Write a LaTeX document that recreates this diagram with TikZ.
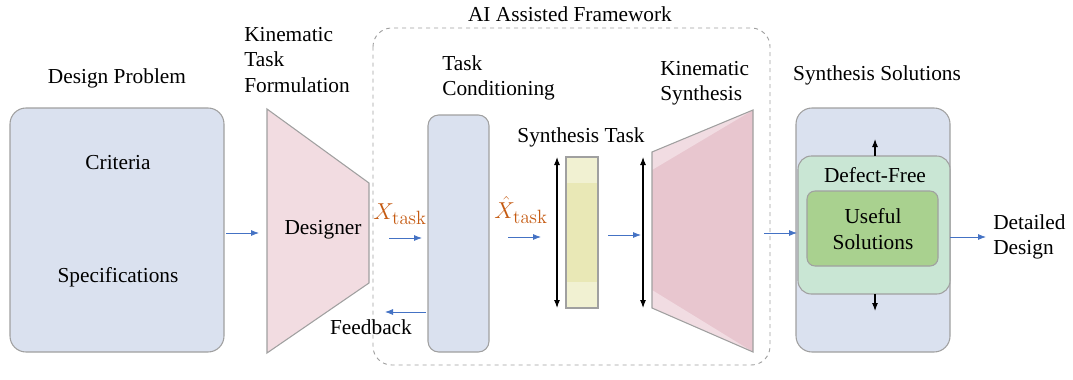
\documentclass[tikz,border=0pt]{standalone}
\usepackage[no-math]{fontspec}
\setmainfont{Liberation Serif}
\usetikzlibrary{arrows.meta,positioning}

\definecolor{boxblue}{HTML}{DAE1EF}
\definecolor{boxpink}{HTML}{F2DCE1}
\definecolor{synpink}{HTML}{E8C6CF}
\definecolor{synlight}{HTML}{F1DCE2}
\definecolor{barlight}{HTML}{F1F1D2}
\definecolor{bardark}{HTML}{E9E8B6}
\definecolor{dfgreen}{HTML}{C9E6D4}
\definecolor{usegreen}{HTML}{A9D18F}
\definecolor{flowblue}{HTML}{4472C4}
\definecolor{taskorange}{HTML}{C55A11}
\definecolor{edgegray}{HTML}{A0A0A0}

\tikzset{
  panel/.style={draw=edgegray, line width=0.8pt, rounded corners=12pt, fill=boxblue},
  flow/.style={-{Latex[length=6pt,width=4.5pt]}, flowblue, line width=0.6pt},
  span/.style={{Latex[length=6pt,width=4.5pt]}-{Latex[length=6pt,width=4.5pt]}, line width=0.8pt},
  lbl/.style={font=\fontsize{16}{19}\selectfont, inner sep=0pt},
  lbll/.style={lbl, align=left, anchor=west},
  mlbl/.style={font=\fontsize{19}{22}\selectfont, inner sep=0pt, text=taskorange},
}

\begin{document}
\begin{tikzpicture}[x=0.75pt,y=-0.75pt]
\useasboundingbox (0,0) rectangle (1073,379);

% framework frame
\draw[edgegray, dashed, line width=0.7pt, rounded corners=14pt] (373,28) rectangle (770,365);
\node[lbl] (frame) at (570,14) {AI Assisted Framework};

% design problem
\draw[panel] (10,108) rectangle (224,352);
\node[lbl] (problem) at (117,78) {Design Problem};
\node[lbl] (crit) at (118,163) {Criteria};
\node[lbl] (spec) at (118,277) {Specifications};

% designer
\draw[draw=edgegray, line width=0.8pt, fill=boxpink] (267,109) -- (369,183) -- (369,283) -- (267,353) -- cycle;
\node[lbl] (designer) at (323,230) {Designer};
\node[lbll] (formul) at (244,60) {Kinematic\\Task\\Formulation};

% task conditioning
\draw[panel, rounded corners=8pt] (428,115) rectangle (489,352);
\node[lbll] (cond) at (442,78) {Task\\Conditioning};

% synthesis task bar
\fill[barlight] (566,157) rectangle (598,308);
\fill[bardark] (566,183) rectangle (598,282);
\draw[edgegray, line width=0.8pt] (566,157) rectangle (598,308);
\node[lbl] (tasklbl) at (581,137) {Synthesis Task};

% kinematic synthesis
\fill[synpink] (652,152) -- (753,110) -- (753,352) -- (652,308) -- cycle;
\fill[synlight] (652,152) -- (753,110) -- (652,170) -- cycle;
\fill[synlight] (652,308) -- (753,352) -- (652,290) -- cycle;
\draw[edgegray, line width=0.8pt] (652,152) -- (753,110) -- (753,352) -- (652,308) -- cycle;
\node[lbll] (synth) at (660,83) {Kinematic\\Synthesis};

% synthesis solutions
\draw[panel] (796,108) rectangle (950,352);
\draw[draw=edgegray, line width=0.8pt, rounded corners=10pt, fill=dfgreen] (798,156) rectangle (950,294);
\draw[draw=edgegray, line width=0.8pt, rounded corners=6pt, fill=usegreen] (807,191) rectangle (938,266);
\node[lbl] (sols) at (877,75) {Synthesis Solutions};
\node[lbl] (defect) at (875,175) {Defect-Free};
\node[lbl, align=center] (useful) at (873,229) {Useful\\Solutions};
\node[lbll] (detail) at (993,237) {Detailed\\Design};

% labels on the flow
\node[mlbl] (xtask) at (400,214) {$X_{\mathrm{task}}$};
\node[mlbl] (xhat) at (521,210) {$\hat{X}_{\mathrm{task}}$};
\node[lbl] (feedback) at (371,327) {Feedback};

% connectors
\coordinate (a1) at (226,233); \coordinate (a2) at (259,233);
\coordinate (b1) at (389,238); \coordinate (b2) at (422,238);
\coordinate (f1) at (426,312); \coordinate (f2) at (385,312);
\coordinate (c1) at (508,237); \coordinate (c2) at (541,237);
\coordinate (d1) at (608,235); \coordinate (d2) at (641,235);
\coordinate (e1) at (764,233); \coordinate (e2) at (797,233);
\coordinate (g1) at (950,237); \coordinate (g2) at (986,237);
\coordinate (u1) at (875,156); \coordinate (u2) at (875,139);
\coordinate (v1) at (875,294); \coordinate (v2) at (875,311);
\coordinate (s1) at (557,157); \coordinate (s2) at (557,308);
\coordinate (t1) at (643,157); \coordinate (t2) at (643,308);

\draw[flow] (a1) -- (a2);
\draw[flow] (b1) -- (b2);
\draw[flow] (f1) -- (f2);
\draw[flow] (c1) -- (c2);
\draw[flow] (d1) -- (d2);
\draw[flow] (e1) -- (e2);
\draw[flow] (g1) -- (g2);
\draw[-{Latex[length=6pt,width=4.5pt]}, line width=0.8pt] (u1) -- (u2);
\draw[-{Latex[length=6pt,width=4.5pt]}, line width=0.8pt] (v1) -- (v2);
\draw[span] (s1) -- (s2);
\draw[span] (t1) -- (t2);
\end{tikzpicture}
\end{document}
